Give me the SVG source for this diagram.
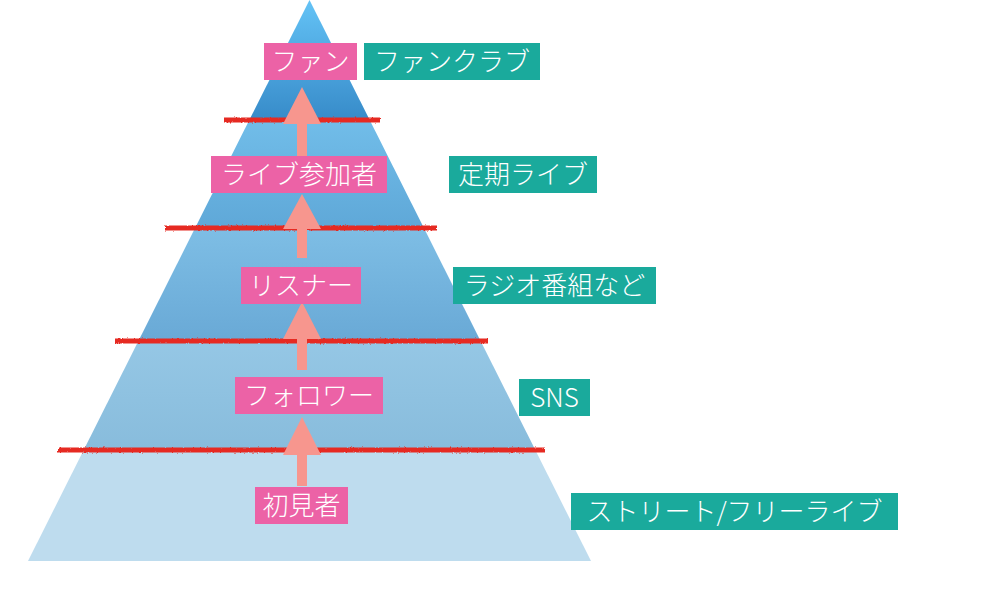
<svg xmlns="http://www.w3.org/2000/svg" width="1006" height="594" viewBox="0 0 1006 594">
<defs>
<linearGradient id="g1" x1="0" y1="0" x2="0" y2="1"><stop offset="0" stop-color="#64c3f6"/><stop offset="1" stop-color="#378bc9"/></linearGradient>
<linearGradient id="g2" x1="0" y1="0" x2="0" y2="1"><stop offset="0" stop-color="#71bde9"/><stop offset="1" stop-color="#5fa8d8"/></linearGradient>
<linearGradient id="g3" x1="0" y1="0" x2="0" y2="1"><stop offset="0" stop-color="#7ebee5"/><stop offset="1" stop-color="#69a9d6"/></linearGradient>
<linearGradient id="g4" x1="0" y1="0" x2="0" y2="1"><stop offset="0" stop-color="#95c7e5"/><stop offset="1" stop-color="#88bcdc"/></linearGradient>
<filter id="rough" filterUnits="userSpaceOnUse" x="0" y="0" width="1006" height="594">
<feTurbulence type="fractalNoise" baseFrequency="0.6" numOctaves="2" seed="3" result="n"/>
<feDisplacementMap in="SourceGraphic" in2="n" scale="2.5" xChannelSelector="R" yChannelSelector="G"/>
</filter>
</defs>
<style>
.lbl{font-family:"Noto Sans CJK JP","Noto Sans",sans-serif;font-size:26px;font-weight:300;fill:#ffffff;text-anchor:middle}
.pk{fill:#ec62a6}
.tl{fill:#1aaa9c}
.red{stroke:#e62a20;stroke-width:5;fill:none}
.redc{stroke:#e8281e;stroke-width:3;fill:none;stroke-opacity:0.85}
.shaft{fill:#f7968e}
.head{fill:#f7968e}
</style>
<g id="pyramid">
<polygon points="309.5,0 369.7,120 249.3,120" fill="url(#g1)"/>
<polygon points="249.3,120 369.7,120 423.9,228 195.1,228" fill="url(#g2)"/>
<polygon points="195.1,228 423.9,228 480.6,341 138.4,341" fill="url(#g3)"/>
<polygon points="138.4,341 480.6,341 535.3,450 83.7,450" fill="url(#g4)"/>
<polygon points="83.7,450 535.3,450 591,561 28,561" fill="#bedcee"/>
</g>
<g id="dividers">
<g class="redc">
<line x1="225" y1="120" x2="379" y2="120"/>
<line x1="166" y1="228" x2="436" y2="228"/>
<line x1="116" y1="341" x2="487" y2="341"/>
<line x1="59" y1="450" x2="544" y2="450"/>
</g>
<g class="red" filter="url(#rough)">
<line x1="224" y1="120" x2="380" y2="120"/>
<line x1="165" y1="228" x2="437" y2="228"/>
<line x1="115" y1="341" x2="488" y2="341"/>
<line x1="58" y1="450" x2="545" y2="450"/>
</g>
</g>
<g id="connectors">
<rect class="shaft" x="297" y="120" width="10" height="36"/>
<path class="head" d="M302 87 L321 124 L283 124 Z"/>
<rect class="shaft" x="297" y="226" width="10" height="32"/>
<path class="head" d="M302 194 L321 229 L283 229 Z"/>
<rect class="shaft" x="297" y="336" width="10" height="34"/>
<path class="head" d="M302 302 L321 339 L283 339 Z"/>
<rect class="shaft" x="297" y="452" width="10" height="34"/>
<path class="head" d="M302 417 L321 455 L283 455 Z"/>
</g>
<g id="node-fan"><rect class="pk" x="264" y="43" width="93" height="37"/><text class="lbl" x="310.5" y="71">ファン</text></g>
<g id="node-fanclub"><rect class="tl" x="364" y="43" width="176" height="37"/><text class="lbl" x="452" y="71">ファンクラブ</text></g>
<g id="node-live"><rect class="pk" x="211" y="156" width="176" height="37"/><text class="lbl" x="299" y="184">ライブ参加者</text></g>
<g id="node-teiki"><rect class="tl" x="449" y="156" width="148" height="37"/><text class="lbl" x="523" y="184">定期ライブ</text></g>
<g id="node-listener"><rect class="pk" x="241" y="267" width="120" height="37"/><text class="lbl" x="301" y="295">リスナー</text></g>
<g id="node-radio"><rect class="tl" x="453" y="267" width="203" height="37"/><text class="lbl" x="554.5" y="295">ラジオ番組など</text></g>
<g id="node-follower"><rect class="pk" x="235" y="377" width="148" height="37"/><text class="lbl" x="309" y="405">フォロワー</text></g>
<g id="node-sns"><rect class="tl" x="519" y="379" width="71" height="37"/><text class="lbl" x="554.5" y="407">SNS</text></g>
<g id="node-shoken"><rect class="pk" x="255" y="487" width="93" height="37"/><text class="lbl" x="301.5" y="515">初見者</text></g>
<g id="node-street"><rect class="tl" x="571" y="493" width="327" height="37"/><text class="lbl" x="734.5" y="521">ストリート/フリーライブ</text></g>
</svg>
